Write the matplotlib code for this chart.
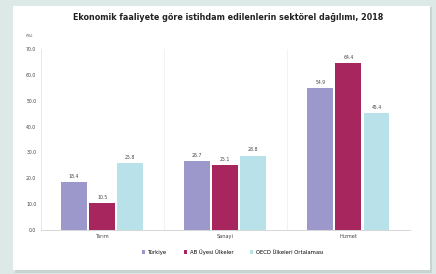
import matplotlib.pyplot as plt
import numpy as np
from matplotlib.patches import Rectangle

# %% DATA
categories = ["Tarım", "Sanayi", "Hizmet"]
series_names = ["Türkiye", "AB Üyesi Ülkeler", "OECD Ülkeleri Ortalaması"]
turkiye = [18.4, 26.7, 54.9]
ab = [10.5, 25.1, 64.4]
oecd = [25.8, 28.8, 45.4]
yticks = [0, 10, 20, 30, 40, 50, 60, 70]

colors = ["#9c98cc", "#a8265e", "#b9e1ea"]

# %% FIGURE
fig = plt.figure(figsize=(4.36, 2.74), dpi=100, facecolor="#dde9e6")

# White panel with a soft shadow
fig.patches.append(Rectangle((15 / 436, 1 - 273 / 274), 417 / 436, 266 / 274,
                             transform=fig.transFigure, facecolor="#c9d4d2",
                             edgecolor="none", zorder=-2))
fig.patches.append(Rectangle((13 / 436, 1 - 270 / 274), 417 / 436, 264 / 274,
                             transform=fig.transFigure, facecolor="white",
                             edgecolor="none", zorder=-1))

ax = fig.add_axes([40.5 / 436, 44 / 274, 369.5 / 436, 181 / 274])
ax.set_zorder(2)
ax.set_facecolor("white")

x = np.arange(len(categories))
width = 0.21
step = 0.228
for i, (vals, name) in enumerate(zip([turkiye, ab, oecd], series_names)):
    pos = x + (i - 1) * step
    bars = ax.bar(pos, vals, width=width, color=colors[i], label=name, zorder=2)
    for b, v in zip(bars, vals):
        ax.text(b.get_x() + b.get_width() / 2, v + 1.2, f"{v:.1f}",
                ha="center", va="bottom", fontsize=3.3, color="#444444")

ax.set_xlim(-0.5, 2.5)
ax.set_ylim(0, 70)
ax.set_yticks(yticks)
ax.set_yticklabels([f"{t:.1f}" for t in yticks], fontsize=3.3, color="#444444")
ax.set_xticks(x)
ax.set_xticklabels(categories, fontsize=3.6, color="#444444")
ax.tick_params(axis="both", length=0, pad=3)

# Faint category separators
for sep in [0.5, 1.5]:
    ax.axvline(sep, color="#f0f0f0", lw=0.6, zorder=1)

for side in ["top", "right"]:
    ax.spines[side].set_visible(False)
ax.spines["left"].set_color("#e4e4e4")
ax.spines["bottom"].set_color("#d0d0d0")
ax.spines["left"].set_linewidth(0.6)
ax.spines["bottom"].set_linewidth(0.6)

ax.text(-0.02, 1.06, "(%)", transform=ax.transAxes, fontsize=3.2,
        color="#444444", ha="right", va="bottom")

fig.text(228 / 436, 1 - 17 / 274,
         "Ekonomik faaliyete göre istihdam edilenlerin sektörel dağılımı, 2018",
         ha="center", va="center", fontsize=5.8, fontweight="bold", color="#222222")

ax.legend(loc="upper center", bbox_to_anchor=(0.52, -0.08), ncol=3,
          fontsize=3.8, frameon=False, handlelength=0.6, handleheight=0.6,
          columnspacing=3.2, handletextpad=0.5)

plt.savefig("out.png", dpi=100, facecolor=fig.get_facecolor())
plt.close()
